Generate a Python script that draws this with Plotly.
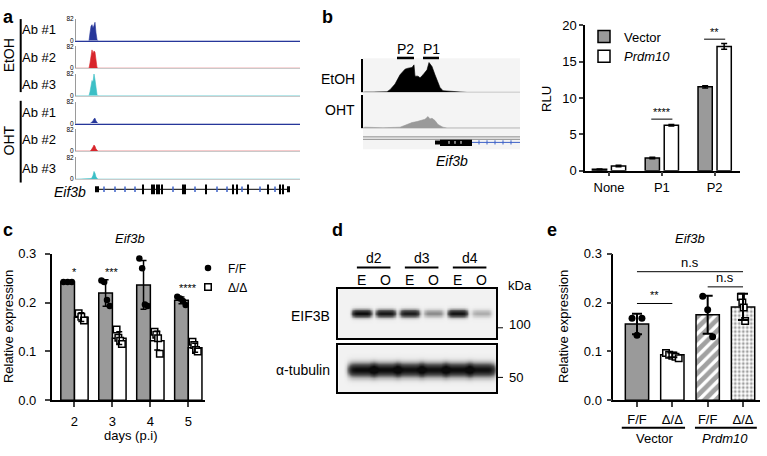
import numpy as np
import plotly.graph_objects as go

W, H = 767, 456
FONT = "Liberation Sans, Arial, Helvetica, sans-serif"

# ======================= DATA =======================
# (a) ChIP-seq coverage tracks (scale 0-82) along the Eif3b locus
a_pos = [0, 13, 14, 15, 16, 17, 18, 19, 20, 21, 22, 224]
a_labels = ["Ab #1", "Ab #2", "Ab #3", "Ab #1", "Ab #2", "Ab #3"]
a_conditions = ["EtOH", "OHT"]
a_etoh_ab1 = [0, 0, 30, 55, 61, 48, 58, 70, 30, 5, 0, 0]
a_etoh_ab2 = [0, 0, 20, 50, 69, 55, 65, 60, 25, 3, 0, 0]
a_etoh_ab3 = [0, 0, 15, 45, 57, 52, 82, 60, 25, 4, 0, 0]
a_oht_ab1 = [0, 0, 0, 3, 6, 10, 18, 20, 10, 2, 0, 0]
a_oht_ab2 = [0, 0, 0, 3, 8, 15, 23, 18, 8, 2, 0, 0]
a_oht_ab3 = [0, 0, 0, 2, 6, 14, 29, 22, 8, 2, 0, 0]
a_ymax = 82
a_gene = "Eif3b"
a_gene_span = [19, 214]
a_utr5 = [19, 23]
a_utr3 = [211, 214]
a_exons = [67, 76, 78, 81, 83, 86, 107, 109, 130, 157, 161, 172, 192, 204, 207]
a_strand_marks = [28, 39, 49, 59, 97, 119, 141, 151, 166, 184, 199]

# (b) promoter tracks
b_etoh_pos = [0, 2, 10, 24, 27, 32, 37, 42, 45, 49, 51, 52, 55, 57, 60, 64, 66, 69, 72, 77, 80, 87, 97, 104, 157]
b_etoh_cov = [0, 0.01, 0.01, 0.02, 0.08, 0.25, 0.53, 0.70, 0.73, 0.75, 0.83, 0.49, 0.49, 0.44, 0.53, 0.68,
              0.90, 0.78, 0.53, 0.15, 0.05, 0.03, 0.01, 0, 0]
b_oht_pos = [0, 2, 20, 37, 44, 49, 54, 59, 62, 65, 67, 69, 72, 75, 80, 84, 157]
b_oht_cov = [0, 0.02, 0.005, 0.02, 0.10, 0.16, 0.19, 0.22, 0.26, 0.34, 0.27, 0.29, 0.22, 0.10, 0.02, 0, 0]
b_track_names = ["EtOH", "OHT"]
b_promoters = ["P2", "P1"]
b_promoter_spans = [[34, 51], [60, 76]]
b_gene_span = [72, 157]
b_utr = [72, 77]
b_cds = [77, 109]
b_strand_marks = [116, 124, 132, 140, 148]
b_box_arrows = [86, 92, 98]

# (b) luciferase reporter
b_groups = ["None", "P1", "P2"]
b_vector = [0.2, 1.75, 11.55]
b_vector_err = [0.05, 0.1, 0.15]
b_prdm10 = [0.65, 6.25, 17.1]
b_prdm10_err = [0.1, 0.1, 0.4]
b_sig_group = [1, 2]
b_sig_y = [7.1, 18.1]
b_sig_text = ["****", "**"]

# (c) Eif3b expression over time
c_days = [2, 3, 4, 5]
c_ff_mean = [0.242, 0.2195, 0.236, 0.2045]
c_ff_sd = [0.002, 0.027, 0.05, 0.007]
c_ko_mean = [0.170, 0.127, 0.122, 0.1075]
c_ko_sd = [0.009, 0.013, 0.019, 0.009]
c_ff_points = [[0.242, 0.242, 0.242], [0.245, 0.242, 0.205, 0.193],
               [0.29, 0.27, 0.196, 0.193], [0.212, 0.208, 0.203, 0.195]]
c_ko_points = [[0.178, 0.171, 0.163], [0.145, 0.128, 0.122, 0.115],
               [0.14, 0.134, 0.127, 0.095], [0.12, 0.113, 0.103, 0.1]]
c_sig_text = ["*", "***", "**", "****"]
c_sig_y = [0.262, 0.262, 0.308, 0.230]

# (d) western blot
d_days = ["d2", "d3", "d4"]
d_lanes = ["E", "O", "E", "O", "E", "O"]
d_eif3b = [1.0, 0.92, 0.88, 0.33, 0.95, 0.22]
d_tubulin = [1.0, 1.0, 0.97, 0.97, 1.0, 0.97]
d_proteins = ["EIF3B", "α-tubulin"]
d_kda = ["100", "50"]

# (e) rescue
e_genotypes = ["F/F", "Δ/Δ", "F/F", "Δ/Δ"]
e_vectors = ["Vector", "Prdm10"]
e_mean = [0.156, 0.093, 0.175, 0.191]
e_sd = [0.021, 0.005, 0.039, 0.027]
e_points = [[0.168, 0.133, 0.168], [0.097, 0.093, 0.091, 0.089, 0.086],
            [0.213, 0.185, 0.13], [0.212, 0.2, 0.19, 0.162]]
e_sig_pairs = [[0, 3], [2, 3], [0, 1]]
e_sig_y = [0.263, 0.232, 0.198]
e_sig_text = ["n.s", "n.s", "**"]

# ======================= FIGURE =======================
GRAY = "#9a9a9a"
traces, shapes, annotations = [], [], []
layout = dict(width=W, height=H, margin=dict(l=0, r=0, t=0, b=0), autosize=False,
              paper_bgcolor="white", plot_bgcolor="rgba(0,0,0,0)",
              font=dict(family=FONT, size=13, color="black"), barmode="overlay")


def px_x(x0, x1):
    return [x0 / W, x1 / W]


def px_y(y0, y1):
    return [1 - y1 / H, 1 - y0 / H]


axis_n = [0]


def new_axes(xd, yd, xopts=None, yopts=None):
    axis_n[0] += 1
    n = axis_n[0]
    sfx = "" if n == 1 else str(n)
    base = dict(showgrid=False, zeroline=False, showticklabels=False, ticks="", showline=False,
                fixedrange=True)
    layout["xaxis" + sfx] = {**base, "domain": px_x(*xd), "anchor": "y" + sfx, **(xopts or {})}
    layout["yaxis" + sfx] = {**base, "domain": px_y(*yd), "anchor": "x" + sfx, **(yopts or {})}
    return "x" + sfx, "y" + sfx


def ann(text, x, y, size=13, xanchor="center", yanchor="middle", xref="paper", yref="paper", **kw):
    xx = x / W if xref == "paper" else x
    yy = 1 - y / H if yref == "paper" else y
    annotations.append(dict(text=text, x=xx, y=yy, xref=xref, yref=yref, showarrow=False,
                            xanchor=xanchor, yanchor=yanchor,
                            font=dict(size=size, family=FONT, color="black"), **kw))


def pline(x0, y0, x1, y1, width=1.5, color="black", xref="paper", yref="paper"):
    shapes.append(dict(type="line", xref=xref, yref=yref,
                       x0=x0 / W if xref == "paper" else x0, x1=x1 / W if xref == "paper" else x1,
                       y0=1 - y0 / H if yref == "paper" else y0, y1=1 - y1 / H if yref == "paper" else y1,
                       line=dict(color=color, width=width)))


def jitter(n, s):
    return [0.0] if n == 1 else list(np.linspace(-s, s, n))


# ---------- panel a ----------
a_tracks = [a_etoh_ab1, a_etoh_ab2, a_etoh_ab3, a_oht_ab1, a_oht_ab2, a_oht_ab3]
a_cols = ["#27379a", "#d8262c", "#3cbfc6"] * 2
a_base = [35, 63.3, 91.7, 120.5, 149, 178]
for i, cov in enumerate(a_tracks):
    col = a_cols[i]
    b0 = a_base[i]
    xr, yr = new_axes((76, 300), (b0 - 22.5, b0),
                      dict(range=[0, 224], showline=True, linewidth=1,
                           linecolor=col if i % 3 == 0 else "#c9c9c9"),
                      dict(range=[0, a_ymax], showline=True, linecolor="#9a9a9a", linewidth=1,
                           showticklabels=True, tickvals=[0, a_ymax], ticktext=["0", str(a_ymax)],
                           tickfont=dict(size=6.5)))
    traces.append(go.Scatter(x=a_pos, y=cov, xaxis=xr, yaxis=yr, mode="lines", fill="tozeroy",
                             line=dict(color=col, width=0.6), fillcolor=col, showlegend=False,
                             hoverinfo="skip"))
    ann(a_labels[i], 39, b0 - 11.5, size=13)

ann(a_conditions[0], 9, 50, size=14, textangle=-90)
ann(a_conditions[1], 9, 138, size=14, textangle=-90)
pline(20.7, 12.5, 20.7, 88, width=2)
pline(20.7, 97, 20.7, 181.5, width=2)

xr, yr = new_axes((76, 300), (183.5, 193.5), dict(range=[0, 224]), dict(range=[-1, 1]))
traces.append(go.Scatter(x=a_gene_span, y=[0, 0], xaxis=xr, yaxis=yr, mode="lines",
                         line=dict(color="black", width=1), showlegend=False, hoverinfo="skip"))
for seg in (a_utr5, a_utr3):
    traces.append(go.Scatter(x=seg, y=[0, 0], xaxis=xr, yaxis=yr, mode="lines",
                             line=dict(color="black", width=6), showlegend=False, hoverinfo="skip"))
traces.append(go.Scatter(x=a_strand_marks, y=[0] * len(a_strand_marks), xaxis=xr, yaxis=yr, mode="markers",
                         marker=dict(symbol="line-ns", size=4, line=dict(color="#3d62c8", width=1.5)),
                         showlegend=False, hoverinfo="skip"))
traces.append(go.Scatter(x=a_exons, y=[0] * len(a_exons), xaxis=xr, yaxis=yr, mode="markers",
                         marker=dict(symbol="line-ns", size=9, line=dict(color="black", width=2)),
                         showlegend=False, hoverinfo="skip"))
ann("<i>" + a_gene + "</i>", 88, 191, size=14, xanchor="right")
ann("<b>a</b>", 8, 10, size=18)

# ---------- panel b: tracks ----------
shapes.append(dict(type="rect", xref="paper", yref="paper", layer="below",
                   x0=363 / W, x1=520 / W, y0=1 - 147 / H, y1=1 - 53 / H,
                   fillcolor="#f4f4f4", line=dict(width=0)))
b_cov = [(b_etoh_pos, b_etoh_cov, "black", (54, 88.3)), (b_oht_pos, b_oht_cov, "#9a9a9a", (90.7, 125))]
b_track_x = None
for k, (pos, cov, col, yd) in enumerate(b_cov):
    xr, yr = new_axes((363, 520), yd,
                      dict(range=[0, 157], showline=True, linecolor="#d6d6d6", linewidth=1),
                      dict(range=[0, 1], showline=True, linecolor="black", linewidth=2))
    if k == 0:
        b_track_x = xr
    traces.append(go.Scatter(x=pos, y=cov, xaxis=xr, yaxis=yr, mode="lines", fill="tozeroy",
                             line=dict(color=col, width=0.6), fillcolor=col, showlegend=False,
                             hoverinfo="skip"))
ann(b_track_names[0], 357, 74, size=14, xanchor="right")
ann(b_track_names[1], 357, 107, size=14, xanchor="right")
for name, span in zip(b_promoters, b_promoter_spans):
    shapes.append(dict(type="line", xref=b_track_x, yref="paper", x0=span[0], x1=span[1],
                       y0=1 - 52.7 / H, y1=1 - 52.7 / H, line=dict(color="black", width=2.5)))
    annotations.append(dict(text=name, x=(span[0] + span[1]) / 2, y=1 - 43 / H, xref=b_track_x, yref="paper",
                            showarrow=False, yanchor="middle",
                            font=dict(size=14, family=FONT, color="black")))
pline(363, 134.3, 520, 134.3, width=1, color="#8a8a8a")
pline(363, 136.8, 520, 136.8, width=1, color="#8a8a8a")
xr, yr = new_axes((363, 520), (136, 144), dict(range=[0, 157]), dict(range=[-1, 1]))
traces.append(go.Scatter(x=b_gene_span, y=[0, 0], xaxis=xr, yaxis=yr, mode="lines",
                         line=dict(color="#3d62c8", width=1), showlegend=False, hoverinfo="skip"))
traces.append(go.Scatter(x=b_utr, y=[0, 0], xaxis=xr, yaxis=yr, mode="lines",
                         line=dict(color="black", width=4), showlegend=False, hoverinfo="skip"))
traces.append(go.Scatter(x=b_cds, y=[0, 0], xaxis=xr, yaxis=yr, mode="lines",
                         line=dict(color="black", width=7), showlegend=False, hoverinfo="skip"))
traces.append(go.Scatter(x=b_box_arrows, y=[0] * 3, xaxis=xr, yaxis=yr, mode="markers",
                         marker=dict(symbol="line-ns", size=2, line=dict(color="white", width=1)),
                         showlegend=False, hoverinfo="skip"))
traces.append(go.Scatter(x=b_strand_marks, y=[0] * len(b_strand_marks), xaxis=xr, yaxis=yr, mode="markers",
                         marker=dict(symbol="line-ns", size=3, line=dict(color="#3d62c8", width=1)),
                         showlegend=False, hoverinfo="skip"))
ann("<i>Eif3b</i>", 452, 159, size=14)
ann("<b>b</b>", 327, 10, size=18)

# ---------- panel b: luciferase bars ----------
xr, yr = new_axes((585, 740), (19, 169.3),
                  dict(range=[-0.455, 2.48], showline=True, linewidth=1.5, linecolor="black",
                       showticklabels=True, tickvals=[0, 1, 2], ticktext=b_groups, ticks="outside",
                       ticklen=4, tickwidth=1.5, tickfont=dict(size=13)),
                  dict(range=[0, 20], showline=True, linewidth=1.5, linecolor="black",
                       showticklabels=True, tickvals=[0, 5, 10, 15, 20], ticks="outside",
                       ticklen=4, tickwidth=1.5, tickfont=dict(size=13)))
idx = np.arange(len(b_groups))
traces.append(go.Bar(x=idx - 0.18, y=b_vector, width=0.27, xaxis=xr, yaxis=yr, name="Vector",
                     marker=dict(color=GRAY, line=dict(color="black", width=1.5)),
                     error_y=dict(type="data", array=b_vector_err, color="black", thickness=1.5, width=3),
                     legend="legend2", hoverinfo="skip"))
traces.append(go.Bar(x=idx + 0.18, y=b_prdm10, width=0.27, xaxis=xr, yaxis=yr, name="<i>Prdm10</i>",
                     marker=dict(color="white", line=dict(color="black", width=1.5)),
                     error_y=dict(type="data", array=b_prdm10_err, color="black", thickness=1.5, width=3),
                     legend="legend2", hoverinfo="skip"))
for g, yv, t in zip(b_sig_group, b_sig_y, b_sig_text):
    shapes.append(dict(type="line", xref=xr, yref=yr, x0=g - 0.2, x1=g + 0.2, y0=yv, y1=yv,
                       line=dict(color="black", width=1)))
    annotations.append(dict(text=t, x=g, y=yv, xref=xr, yref=yr, showarrow=False, yanchor="bottom",
                            yshift=-1, font=dict(size=11, family=FONT, color="black")))
ann("RLU", 547, 95, size=13, textangle=-90)
layout["legend2"] = dict(x=584 / W, y=1 - 15 / H, xanchor="left", yanchor="top", bgcolor="rgba(0,0,0,0)",
                         font=dict(size=13, family=FONT), tracegroupgap=0, itemwidth=30,
                         traceorder="normal")

# ---------- panel c ----------
xr, yr = new_axes((51.7, 205), (255, 406.7),
                  dict(range=[1.40, 5.44], showline=True, linewidth=1.5, linecolor="black",
                       showticklabels=True, tickvals=c_days, ticks="outside", ticklen=5, tickwidth=1.5,
                       tickfont=dict(size=13), ticklabelstandoff=3),
                  dict(range=[0, 0.3], showline=True, linewidth=1.5, linecolor="black",
                       showticklabels=True, tickvals=[0, 0.1, 0.2, 0.3],
                       ticktext=["0.0", "0.1", "0.2", "0.3"], ticks="outside", ticklen=5, tickwidth=1.5,
                       tickfont=dict(size=13), ticklabelstandoff=6))
cd = np.array(c_days, dtype=float)
traces.append(go.Bar(x=cd - 0.18, y=c_ff_mean, width=0.36, xaxis=xr, yaxis=yr, showlegend=False,
                     marker=dict(color=GRAY, line=dict(color="black", width=1.5)), hoverinfo="skip"))
traces.append(go.Bar(x=cd + 0.18, y=c_ko_mean, width=0.36, xaxis=xr, yaxis=yr, showlegend=False,
                     marker=dict(color="white", line=dict(color="black", width=1.5)), hoverinfo="skip"))
fx, fy, kx, ky = [], [], [], []
for d, pts in zip(c_days, c_ff_points):
    for j, v in zip(jitter(len(pts), 0.11), pts):
        fx.append(d - 0.18 + j)
        fy.append(v)
for d, pts in zip(c_days, c_ko_points):
    for j, v in zip(jitter(len(pts), 0.07), pts):
        kx.append(d + 0.18 + j)
        ky.append(v)
traces.append(go.Scatter(x=fx, y=fy, xaxis=xr, yaxis=yr, mode="markers", name="F/F",
                         marker=dict(symbol="circle", size=6.5, color="black"), hoverinfo="skip"))
traces.append(go.Scatter(x=kx, y=ky, xaxis=xr, yaxis=yr, mode="markers", name="Δ/Δ",
                         marker=dict(symbol="square", size=6.5, color="white", line=dict(color="black", width=1.5)),
                         hoverinfo="skip"))
traces.append(go.Scatter(x=cd - 0.18, y=c_ff_mean, xaxis=xr, yaxis=yr, mode="markers", showlegend=False,
                         marker=dict(size=0.1, color="rgba(0,0,0,0)"),
                         error_y=dict(type="data", array=c_ff_sd, color="black", thickness=1.5, width=3),
                         hoverinfo="skip"))
traces.append(go.Scatter(x=cd + 0.18, y=c_ko_mean, xaxis=xr, yaxis=yr, mode="markers", showlegend=False,
                         marker=dict(size=0.1, color="rgba(0,0,0,0)"),
                         error_y=dict(type="data", array=c_ko_sd, color="black", thickness=1.5, width=3),
                         hoverinfo="skip"))
for d, t, yv in zip(c_days, c_sig_text, c_sig_y):
    annotations.append(dict(text=t, x=d, y=yv, xref=xr, yref=yr, showarrow=False, yanchor="middle",
                            font=dict(size=11, family=FONT, color="black")))
ann("Relative expression", 8, 331, size=13, textangle=-90)
ann("days (p.i)", 130, 443, size=13)
ann("<i>Eif3b</i>", 130, 239, size=13)
ann("<b>c</b>", 8, 231, size=18)
layout["legend"] = dict(x=188 / W, y=1 - 255 / H, xanchor="left", yanchor="top", bgcolor="rgba(0,0,0,0)",
                        font=dict(size=12, family=FONT), tracegroupgap=0, itemwidth=30)

# ---------- panel d: western blot ----------
bx = np.linspace(0.025, 6.6, 220)
by = np.linspace(0, 1, 70)
BX, BY = np.meshgrid(bx, by)


def blot(intens, yc, hh, hw):
    z = np.zeros_like(BX)
    for i, v in enumerate(intens):
        z += v * np.exp(-((BX - (i + 1)) / hw) ** 6) * np.exp(-((BY - yc) / hh) ** 2)
    return np.clip(z, 0, 1)


blot_specs = [(d_eif3b, 0.51, 0.075, 0.42, (291.7, 342.7)), (d_tubulin, 0.48, 0.14, 0.58, (350, 398.3))]
blot_x = None
for intens, yc, hh, hw, yd in blot_specs:
    xr_b, yr_b = new_axes((338.3, 496), yd,
                          dict(range=[0.025, 6.6], showline=True, mirror=True, linecolor="black", linewidth=2),
                          dict(range=[0, 1], showline=True, mirror=True, linecolor="black", linewidth=2))
    if blot_x is None:
        blot_x = xr_b
    traces.append(go.Heatmap(x=bx, y=by, z=blot(intens, yc, hh, hw), xaxis=xr_b, yaxis=yr_b, zmin=0, zmax=1,
                             colorscale=[[0, "#f2f2f2"], [0.5, "#555555"], [1, "#0a0a0a"]],
                             showscale=False, zsmooth="best", hoverinfo="skip"))
for i, lane in enumerate(d_lanes):
    annotations.append(dict(text=lane, x=i + 1, y=1 - 282.7 / H, xref=blot_x, yref="paper", showarrow=False,
                            yanchor="middle", font=dict(size=14, family=FONT, color="black")))
for k, day in enumerate(d_days):
    c0 = 2 * k + 1.5
    annotations.append(dict(text=day, x=c0, y=1 - 259.5 / H, xref=blot_x, yref="paper", showarrow=False,
                            yanchor="middle", font=dict(size=14, family=FONT, color="black")))
    shapes.append(dict(type="line", xref=blot_x, yref="paper", x0=c0 - 0.7, x1=c0 + 0.7,
                       y0=1 - 269.3 / H, y1=1 - 269.3 / H, line=dict(color="black", width=2)))
ann(d_proteins[0], 332, 319, size=14, xanchor="right")
ann(d_proteins[1], 332, 375, size=14, xanchor="right")
ann("kDa", 520, 288, size=13)
pline(497, 331.7, 503, 331.7, width=1)
pline(497, 383, 503, 383, width=1)
ann(d_kda[0], 507, 328, size=13, xanchor="left")
ann(d_kda[1], 507, 383, size=13, xanchor="left")
ann("<b>d</b>", 337, 231, size=18)

# ---------- panel e ----------
xr, yr = new_axes((613.3, 760), (255, 406.7),
                  dict(range=[-0.67, 3.48], showline=True, linewidth=1.5, linecolor="black",
                       showticklabels=True, tickvals=[0, 1, 2, 3], ticktext=e_genotypes, ticks="outside",
                       ticklen=5, tickwidth=1.5, tickfont=dict(size=13), ticklabelstandoff=1),
                  dict(range=[0, 0.3], showline=True, linewidth=1.5, linecolor="black",
                       showticklabels=True, tickvals=[0, 0.1, 0.2, 0.3],
                       ticktext=["0.0", "0.1", "0.2", "0.3"], ticks="outside", ticklen=5, tickwidth=1.5,
                       tickfont=dict(size=13), ticklabelstandoff=2))
ex = np.arange(len(e_mean), dtype=float)
traces.append(go.Bar(x=ex, y=e_mean, width=0.66, xaxis=xr, yaxis=yr, showlegend=False,
                     marker=dict(color=[GRAY, "white", "white", "white"],
                                 line=dict(color="black", width=1.5),
                                 pattern=dict(shape=["", "", "/", "."], fgcolor="black",
                                              bgcolor=[GRAY, "white", "white", "white"],
                                              size=[8, 8, 8, 4], solidity=[0.3, 0.3, 0.6, 0.4])),
                     hoverinfo="skip"))
epx_c, epy_c, epx_s, epy_s = [], [], [], []
for i, pts in enumerate(e_points):
    spread = 0.18 if len(pts) > 4 else (0.06 if len(pts) == 4 else 0.14)
    for j, v in zip(jitter(len(pts), spread), pts):
        if e_genotypes[i] == "F/F":
            epx_c.append(i + j)
            epy_c.append(v)
        else:
            epx_s.append(i + j)
            epy_s.append(v)
traces.append(go.Scatter(x=epx_c, y=epy_c, xaxis=xr, yaxis=yr, mode="markers", showlegend=False,
                         marker=dict(symbol="circle", size=7, color="black"), hoverinfo="skip"))
traces.append(go.Scatter(x=epx_s, y=epy_s, xaxis=xr, yaxis=yr, mode="markers", showlegend=False,
                         marker=dict(symbol="square", size=6.5, color="white", line=dict(color="black", width=1.5)),
                         hoverinfo="skip"))
traces.append(go.Scatter(x=ex, y=e_mean, xaxis=xr, yaxis=yr, mode="markers", showlegend=False,
                         marker=dict(size=0.1, color="rgba(0,0,0,0)"),
                         error_y=dict(type="data", array=e_sd, color="black", thickness=2, width=5),
                         hoverinfo="skip"))
for (i0, i1), yv, t in zip(e_sig_pairs, e_sig_y, e_sig_text):
    shapes.append(dict(type="line", xref=xr, yref=yr, x0=i0, x1=i1, y0=yv, y1=yv,
                       line=dict(color="black", width=1)))
    annotations.append(dict(text=t, x=(i0 + i1) / 2, y=yv, xref=xr, yref=yr, showarrow=False,
                            yanchor="bottom", yshift=0,
                            font=dict(size=13 if t == "n.s" else 11, family=FONT, color="black")))
for k, (name, lo, hi) in enumerate(zip(e_vectors, [-0.43, 1.64], [1.36, 3.39])):
    shapes.append(dict(type="line", xref=xr, yref="paper", x0=lo, x1=hi, y0=1 - 435 / H, y1=1 - 435 / H,
                       line=dict(color="black", width=2)))
    label = name if k == 0 else "<i>" + name + "</i>"
    annotations.append(dict(text=label, x=2 * k + 0.5, y=1 - 446.5 / H, xref=xr, yref="paper",
                            showarrow=False, yanchor="middle",
                            font=dict(size=13, family=FONT, color="black")))
ann("Relative expression", 563, 331, size=13, textangle=-90)
ann("<i>Eif3b</i>", 690, 239, size=13)
ann("<b>e</b>", 552, 231, size=18)

layout["shapes"] = shapes
layout["annotations"] = annotations
fig = go.Figure(data=traces, layout=layout)
fig.write_html("out.html", config={"displayModeBar": False},
               post_script="document.body.style.margin='0px';document.body.style.padding='0px';"
                           "document.body.style.overflow='hidden';")
